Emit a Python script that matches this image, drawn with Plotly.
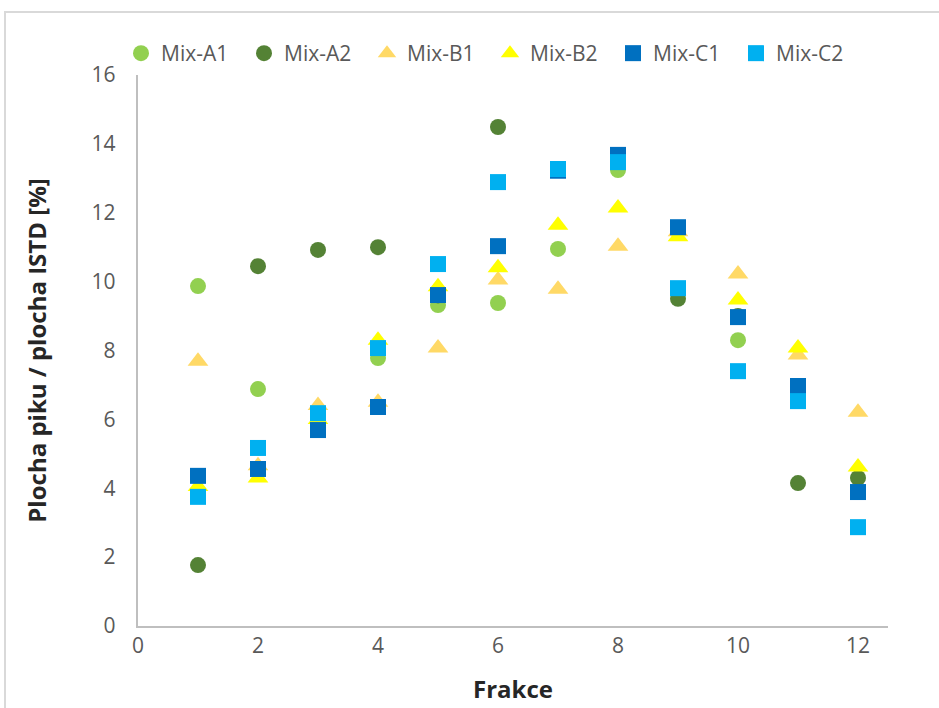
import plotly.graph_objects as go

fractions = [1, 2, 3, 4, 5, 6, 7, 8, 9, 10, 11, 12]

mix_a1 = [9.87, 6.88, 5.90, 7.78, 9.32, 9.38, 10.95, 13.24, 9.70, 8.30, 6.80, 3.90]
mix_a2 = [1.77, 10.45, 10.92, 11.00, 9.60, 14.49, 13.25, 13.50, 9.50, 9.00, 4.15, 4.30]
mix_b1 = [7.69, 4.65, 6.40, 6.50, 8.07, 10.05, 9.78, 11.03, 11.45, 10.22, 7.87, 6.21]
mix_b2 = [4.05, 4.30, 6.00, 8.30, 9.85, 10.40, 11.64, 12.14, 11.30, 9.47, 8.07, 4.62]
mix_c1 = [4.36, 4.56, 5.69, 6.36, 9.61, 11.03, 13.22, 13.68, 11.58, 8.97, 6.97, 3.89]
mix_c2 = [3.75, 5.17, 6.18, 8.07, 10.51, 12.89, 13.27, 13.47, 9.81, 7.40, 6.53, 2.87]

series = [
    ("Mix-A1", mix_a1, "circle", "#92D050"),
    ("Mix-A2", mix_a2, "circle", "#548235"),
    ("Mix-B1", mix_b1, "triangle-up", "#FFD966"),
    ("Mix-B2", mix_b2, "triangle-up", "#FFFF00"),
    ("Mix-C1", mix_c1, "square", "#0070C0"),
    ("Mix-C2", mix_c2, "square", "#00B0F0"),
]

FONT = "Open Sans, Lato, sans-serif"

fig = go.Figure()
for name, vals, symbol, color in series:
    fig.add_trace(go.Scatter(
        x=fractions, y=vals, name=name, mode="markers",
        marker=dict(symbol=symbol, color=color, size=16 if symbol != "triangle-up" else 18,
                    line=dict(width=0)),
    ))

W, H = 939, 708
L, R, T, B = 138, 51, 75, 82
pw, ph = W - L - R, H - T - B

def px_x(p):
    return (p - L) / pw

def px_y(p):
    return 1 - (p - T) / ph

fig.update_layout(
    width=W, height=H,
    margin=dict(l=L, r=R, t=T, b=B, autoexpand=False),
    paper_bgcolor="white", plot_bgcolor="white",
    font=dict(family=FONT, size=20, color="#595959"),
    showlegend=True,
    legend=dict(
        orientation="h", x=px_x(121), y=px_y(33), xanchor="left", yanchor="top",
        font=dict(size=21, color="#595959"), itemwidth=30,
        entrywidth=78, entrywidthmode="pixels", tracegroupgap=0,
        bgcolor="rgba(0,0,0,0)",
    ),
    xaxis=dict(
        range=[0, 12.5], dtick=2, tick0=0, showgrid=False, zeroline=False,
        showline=True, linecolor="#BFBFBF", linewidth=2, ticks="", automargin=False,
        tickfont=dict(size=21, color="#595959"),
        title=dict(text="<b>Frakce</b>", font=dict(size=24, color="#262626"), standoff=23),
    ),
    yaxis=dict(
        range=[0, 16], dtick=2, tick0=0, showgrid=False, zeroline=False,
        showline=True, linecolor="#BFBFBF", linewidth=2, ticks="", automargin=False,
        tickfont=dict(size=21, color="#595959"), ticksuffix="   ",
        title=dict(text="<b>Plocha piku / plocha ISTD [%]</b>", font=dict(size=24, color="#262626"),
                   standoff=38),
    ),
    shapes=[dict(
        type="rect", xref="paper", yref="paper",
        x0=px_x(5), x1=px_x(1200), y0=px_y(1000), y1=px_y(12),
        line=dict(color="#D9D9D9", width=2), fillcolor="rgba(0,0,0,0)", layer="below",
    )],
)

fig.write_html("out.html")
